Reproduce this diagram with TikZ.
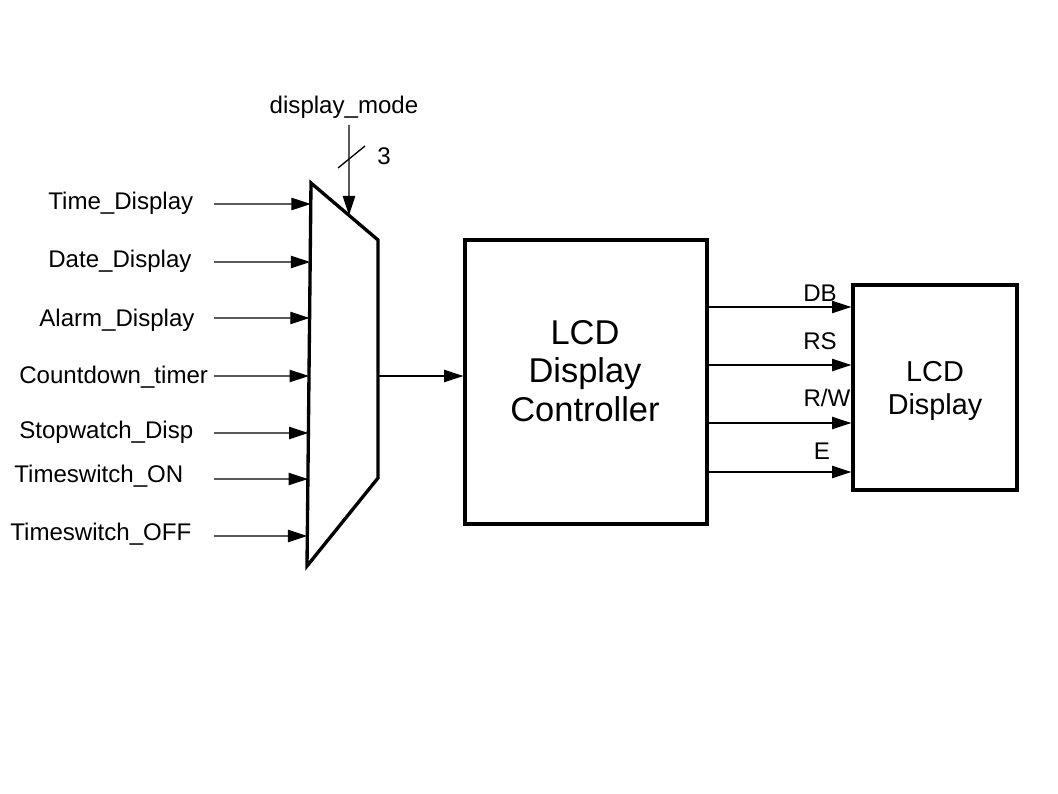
\documentclass[tikz,border=0pt]{standalone}
\usepackage{fontspec}
\setmainfont{Liberation Sans}
\usetikzlibrary{arrows.meta,positioning,calc}
\tikzset{
  sig/.style={-{Triangle[length=11pt,width=7pt]}, line width=0.75pt},
  blk/.style={draw, line width=1.9pt, inner sep=0pt},
  lbl/.style={font=\fontsize{13.7}{16}\selectfont, inner sep=0pt}
}

\begin{document}
\begin{tikzpicture}[x=0.02cm, y=-0.02cm]
    \useasboundingbox (0,0) rectangle (1058,794);
    % multiplexer outline
    \coordinate (mtl) at (311,183);
    \coordinate (mtr) at (378,240);
    \coordinate (mbr) at (378,478);
    \coordinate (mbl) at (307,566);
    \draw[line width=1.9pt, line join=miter] (mtl) -- (mtr) -- (mbr) -- (mbl) -- cycle;
    % inputs: label / label left x / label y / arrow y
    \foreach \txt/\lx/\ly/\ay [count=\i] in {Time\_Display/48/203/204, Date\_Display/48/261/262,
        Alarm\_Display/39/320/318, Countdown\_timer/19/377/376, Stopwatch\_Disp/19/432/433,
        Timeswitch\_ON/14/476/479, Timeswitch\_OFF/10/534/536} {
      \node[lbl, anchor=west] (in\i) at (\lx,\ly) {\txt};
      \coordinate (src\i) at (214,\ay);
      \draw[sig] (src\i) -- ($(mtl)!{(\ay-183)/383}!(mbl)$);
    }
    % select input, 3 bits wide
    \node[lbl] (mode) at (344,107) {display\_mode};
    \coordinate (selsrc) at (349,125);
    \draw[sig] (selsrc) -- ($(mtl)!0.567!(mtr)$);
    \draw[line width=0.75pt] (338,168) -- (365,146);
    \node[lbl] (width) at (384,156) {3};
    % controller block
    \node[blk, minimum width=4.84cm, minimum height=5.68cm] (ctrl) at (586,382) {};
    \node[font=\fontsize{19.6}{22}\selectfont, align=center] (ctrltxt) at (585,371) {LCD\\Display\\Controller};
    \coordinate (mout) at (378,376);
    \draw[sig] (mout) -- (mout -| ctrl.west);
    % display block
    \node[blk, minimum width=3.28cm, minimum height=4.1cm] (lcd) at (935,387.5) {};
    \node[font=\fontsize{16.4}{18.7}\selectfont, align=center] (lcdtxt) at (935,391) {LCD\\Display};
    % control and data lines
    \foreach \txt/\lx/\ly/\ay [count=\i] in {DB/820/293/307, RS/820/341/365, {R/W}/827/398/423, E/822/451/472} {
      \node[lbl] (out\i) at (\lx,\ly) {\txt};
      \coordinate (o\i) at (707,\ay);
      \draw[sig] (o\i) -- (o\i -| lcd.west);
    }
\end{tikzpicture}
\end{document}
